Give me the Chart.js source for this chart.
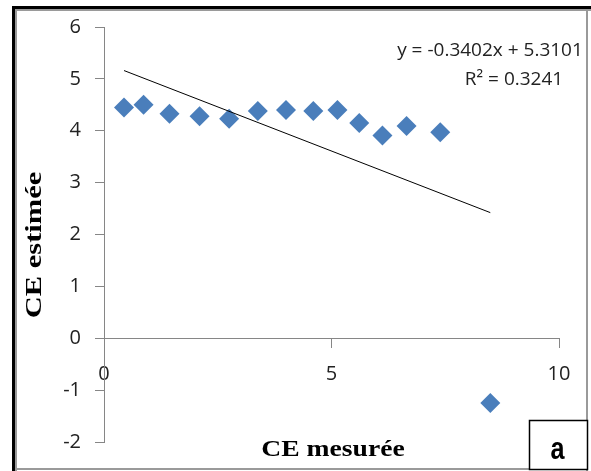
<!DOCTYPE html>
<html>
<head>
<meta charset="utf-8">
<script src="https://cdn.jsdelivr.net/npm/chart.js@4.4.1/dist/chart.umd.min.js"></script>
<style>
    html, body { margin: 0; padding: 0; background: #fff; }
    #wrap { width: 591px; height: 471px; position: relative; }
</style>
</head>
<body>
<div id="wrap"><canvas id="ceChart" width="591" height="471"></canvas></div>
<script>
// measured vs estimated CE
const ceMesuree = [0.44, 0.87, 1.44, 2.10, 2.75, 3.38, 4.00, 4.60, 5.13, 5.61, 6.12, 6.65, 7.39, 8.49];
const ceEstimee = [4.45, 4.50, 4.33, 4.28, 4.23, 4.38, 4.40, 4.38, 4.40, 4.15, 3.91, 4.09, 3.97, -1.25];

// linear trendline printed on the chart
const slope = -0.3402;
const intercept = 5.3101;
const r2 = 0.3241;

const xTicks = [0, 5, 10];
const yTicks = [-2, -1, 0, 1, 2, 3, 4, 5, 6];

const points = ceMesuree.map((x, i) => ({ x: x, y: ceEstimee[i] }));
const xMin = Math.min(...ceMesuree);
const xMax = Math.max(...ceMesuree);
const trend = [
    { x: xMin, y: slope * xMin + intercept },
    { x: xMax, y: slope * xMax + intercept }
];

const axisGray = "#868686";

// frame, axis titles, equation and the "a" box
const decorPlugin = {
    id: "decor",
    afterDraw(chart) {
        const ctx = chart.ctx;
        ctx.save();

        // outer frame
        ctx.fillStyle = "#000";
        ctx.fillRect(12, 6, 579, 3);
        ctx.fillRect(12, 6, 3, 465);
        ctx.fillStyle = "#9a9a9a";
        ctx.fillRect(15, 9, 576, 2);
        ctx.fillRect(15, 9, 2, 462);
        ctx.fillRect(586, 9, 2, 462);
        ctx.fillRect(15, 468, 573, 2);

        // axis titles (bold serif, a bit wide)
        ctx.fillStyle = "#000";
        ctx.textAlign = "center";
        ctx.textBaseline = "middle";

        ctx.save();
        ctx.font = "bold 23px 'Liberation Serif'";
        ctx.translate(333, 450);
        ctx.scale(1.2, 1);
        ctx.fillText("CE mesurée", 0, 0);
        ctx.restore();

        ctx.save();
        ctx.font = "bold 24px 'Liberation Serif'";
        ctx.translate(35, 245);
        ctx.rotate(-Math.PI / 2);
        ctx.scale(1.27, 1);
        ctx.fillText("CE estimée", 0, 0);
        ctx.restore();

        // trendline equation
        ctx.font = "19px 'Open Sans'";
        ctx.fillStyle = "#222";
        const eq = "y = " + slope.toFixed(4) + "x + " + intercept.toFixed(4);
        ctx.fillText(eq, 490, 51);
        ctx.fillText("R² = " + r2.toFixed(4), 514, 80);

        // panel letter
        ctx.fillStyle = "#fff";
        ctx.fillRect(529, 420, 59, 50);
        ctx.strokeStyle = "#000";
        ctx.lineWidth = 1.5;
        ctx.strokeRect(529.5, 420.5, 58, 49);
        ctx.fillStyle = "#000";
        ctx.font = "bold 28px 'Liberation Sans'";
        ctx.textBaseline = "alphabetic";
        ctx.save();
        ctx.translate(557.5, 459);
        ctx.scale(0.9, 1.15);
        ctx.fillText("a", 0, 0);
        ctx.restore();

        ctx.restore();
    }
};

const ceChart = new Chart(document.getElementById("ceChart"), {
    type: "scatter",
    data: {
        datasets: [
            {
                label: "CE",
                data: points,
                pointStyle: "rectRot",
                pointRadius: 10,
                pointHoverRadius: 10,
                backgroundColor: "#4A7EBB",
                borderColor: "#4A7EBB",
                borderWidth: 0,
                order: 2
            },
            {
                label: "Linéaire",
                type: "line",
                data: trend,
                borderColor: "#000",
                borderWidth: 1,
                pointRadius: 0,
                fill: false,
                order: 1
            }
        ]
    },
    options: {
        responsive: false,
        animation: false,
        layout: {
            padding: { left: 0, right: 32, top: 27, bottom: 29 }
        },
        plugins: {
            legend: { display: false },
            tooltip: { enabled: false }
        },
        scales: {
            x: {
                type: "linear",
                position: { y: 0 },
                min: 0,
                max: 10,
                afterBuildTicks(scale) {
                    scale.ticks = xTicks.map(v => ({ value: v }));
                },
                afterFit(scale) {
                    scale.height = 0;
                },
                grid: {
                    drawOnChartArea: false,
                    drawTicks: true,
                    tickLength: 9,
                    color: axisGray
                },
                border: { display: true, color: axisGray, width: 1 },
                ticks: {
                    color: "#222",
                    padding: 15,
                    maxRotation: 0,
                    font: { family: "'Open Sans'", size: 20 }
                }
            },
            y: {
                type: "linear",
                position: "left",
                min: -2,
                max: 6,
                afterBuildTicks(scale) {
                    scale.ticks = yTicks.map(v => ({ value: v }));
                },
                afterFit(scale) {
                    scale.width = 104;
                },
                grid: {
                    drawOnChartArea: false,
                    drawTicks: true,
                    tickLength: 9,
                    color: axisGray
                },
                border: { display: true, color: axisGray, width: 1 },
                ticks: {
                    color: "#222",
                    padding: 14,
                    font: { family: "'Open Sans'", size: 20 }
                }
            }
        }
    },
    plugins: [decorPlugin]
});
</script>
</body>
</html>
